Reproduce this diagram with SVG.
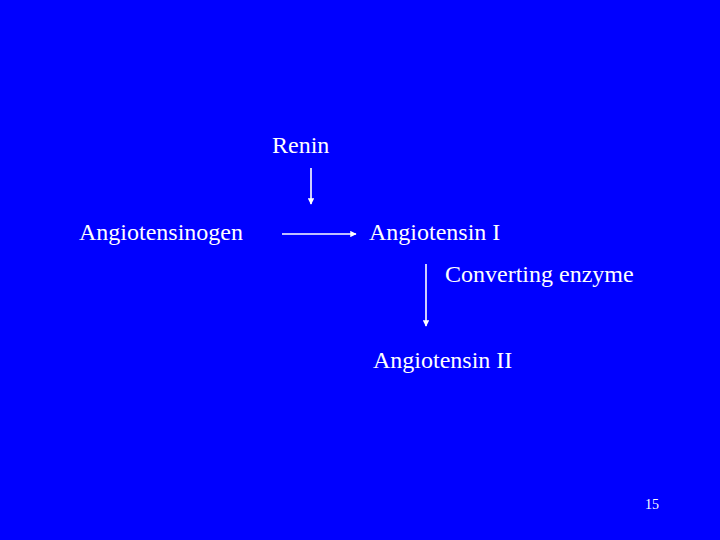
<svg xmlns="http://www.w3.org/2000/svg" width="720" height="540" viewBox="0 0 720 540">
<style>
.t{font-family:"Liberation Serif","Times New Roman",serif;font-size:24px;fill:#fff}
.c{stroke:#fff;stroke-width:1.6;fill:none}
</style>
<defs>
<marker id="ah" viewBox="0 0 10 10" refX="9" refY="5" markerWidth="4" markerHeight="4" orient="auto" markerUnits="strokeWidth">
<path d="M0,0 L10,5 L0,10 z" fill="#fff"/>
</marker>
</defs>
<rect width="720" height="540" fill="#0000FF"/>
<g id="renin"><text class="t" x="272" y="153">Renin</text></g>
<g id="angiotensinogen"><text class="t" x="79" y="240">Angiotensinogen</text></g>
<g id="angiotensin1"><text class="t" x="369" y="240">Angiotensin I</text></g>
<g id="converting"><text class="t" x="445" y="282">Converting enzyme</text></g>
<g id="angiotensin2"><text class="t" x="373" y="368">Angiotensin II</text></g>
<g id="page"><text x="645" y="509" style="font-family:'Liberation Serif',serif;font-size:14px;fill:#fff">15</text></g>
<g id="connectors">
<line class="c" x1="311" y1="168" x2="311" y2="204" marker-end="url(#ah)"/>
<line class="c" x1="282" y1="234" x2="356" y2="234" marker-end="url(#ah)"/>
<line class="c" x1="426" y1="264" x2="426" y2="326" marker-end="url(#ah)"/>
</g>
</svg>
